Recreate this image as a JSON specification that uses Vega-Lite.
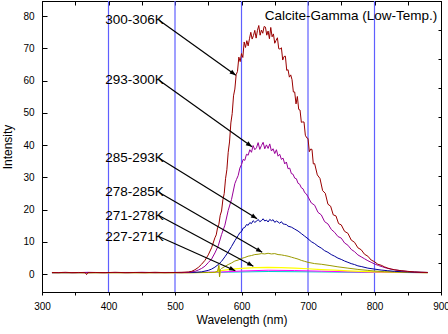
{
  "$schema": "https://vega.github.io/schema/vega-lite/v6.json",
  "width": 399,
  "height": 291,
  "autosize": {"type": "none"},
  "padding": {"left": 42, "top": 1, "right": 7, "bottom": 42},
  "background": "white",
  "config": {
    "view": {"stroke": "black", "strokeWidth": 1},
    "axis": {
      "labelFont": "Liberation Sans", "titleFont": "Liberation Sans",
      "labelFontSize": 10, "titleFontSize": 12, "titleFontWeight": "normal",
      "domainColor": "black", "tickColor": "black", "labelColor": "black", "titleColor": "black",
      "grid": false, "labelOverlap": false, "labelFlush": false
    }
  },
  "resolve": {"axis": {"x": "independent", "y": "independent"}},
  "datasets": {
    "red": [
      {"x":315,"v":0.55},{"x":325,"v":0.5},{"x":335,"v":0.6},{"x":345,"v":0.5},{"x":355,"v":0.55},{"x":365,"v":0.5},{"x":367,"v":-0.1},{"x":369,"v":0.5},{"x":380,"v":0.55},{"x":395,"v":0.5},{"x":410,"v":0.6},{"x":425,"v":0.5},{"x":440,"v":0.55},{"x":455,"v":0.5},{"x":470,"v":0.6},{"x":485,"v":0.5},{"x":500,"v":0.55},{"x":510,"v":0.6},
      {"x":520,"v":0.7},{"x":525,"v":0.9},{"x":530,"v":1.4},{"x":535,"v":2.1},{"x":540,"v":3.1},{"x":545,"v":4.3},{"x":550,"v":6.0},{"x":555,"v":8.2},
      {"x":560,"v":11.3},{"x":562,"v":12.2},{"x":564,"v":14.4},{"x":566,"v":15.5},{"x":568,"v":18.3},{"x":570,"v":19.6},{"x":572,"v":23.1},{"x":574,"v":25.0},{"x":576,"v":29.6},{"x":578,"v":32.4},{"x":580,"v":37.8},{"x":582,"v":41.0},{"x":584,"v":46.9},{"x":586,"v":49.8},{"x":588,"v":55.3},{"x":590,"v":57.4},{"x":592,"v":61.9},{"x":594,"v":62.9},
      {"x":596,"v":67.3},{"x":598,"v":65.9},{"x":600,"v":68.4},{"x":602,"v":67.2},{"x":604,"v":72.0},{"x":606,"v":70.3},{"x":608,"v":72.4},{"x":610,"v":70.8},{"x":612,"v":73.0},{"x":614,"v":75.0},{"x":616,"v":72.9},{"x":618,"v":74.0},{"x":620,"v":75.6},{"x":622,"v":73.2},{"x":624,"v":75.6},{"x":626,"v":77.1},{"x":628,"v":74.1},{"x":630,"v":75.7},{"x":632,"v":74.7},{"x":634,"v":76.8},{"x":636,"v":76.6},{"x":638,"v":74.1},{"x":640,"v":75.4},{"x":642,"v":73.0},{"x":644,"v":76.5},{"x":646,"v":73.6},{"x":648,"v":74.5},{"x":650,"v":71.6},{"x":652,"v":72.5},{"x":654,"v":73.3},{"x":656,"v":69.9},{"x":658,"v":69.8},{"x":660,"v":70.2},{"x":662,"v":66.4},{"x":664,"v":67.5},{"x":666,"v":67.6},{"x":668,"v":63.2},{"x":670,"v":63.4},{"x":672,"v":61.1},{"x":674,"v":61.8},{"x":676,"v":60.3},{"x":678,"v":56.5},{"x":680,"v":56.5},{"x":682,"v":52.8},{"x":684,"v":55.1},{"x":686,"v":51.1},{"x":688,"v":50.9},{"x":690,"v":47.1},{"x":692,"v":47.2},{"x":694,"v":47.2},{"x":696,"v":43.1},{"x":698,"v":42.3},{"x":700,"v":42.1},{"x":702,"v":38.0},{"x":704,"v":38.8},{"x":706,"v":38.7},{"x":708,"v":34.2},{"x":710,"v":34.3},
      {"x":714,"v":30.8},{"x":718,"v":29.7},{"x":722,"v":25.9},{"x":726,"v":25.1},{"x":730,"v":21.7},{"x":734,"v":21.1},{"x":738,"v":18.4},{"x":742,"v":18.1},{"x":746,"v":15.7},{"x":750,"v":15.3},{"x":755,"v":13.3},{"x":760,"v":12.7},{"x":765,"v":10.6},{"x":770,"v":9.9},{"x":775,"v":8.2},{"x":780,"v":7.6},{"x":785,"v":6.2},{"x":790,"v":5.6},{"x":795,"v":4.4},{"x":800,"v":3.9},{"x":805,"v":3.1},{"x":810,"v":2.8},{"x":815,"v":2.3},{"x":820,"v":1.9},{"x":825,"v":1.6},{"x":830,"v":1.4},{"x":840,"v":1.1},{"x":850,"v":0.9},{"x":860,"v":0.7},{"x":870,"v":0.6},{"x":880,"v":0.55}
    ],
    "pur": [
      {"x":315,"v":0.5},{"x":330,"v":0.55},{"x":350,"v":0.5},{"x":370,"v":0.6},{"x":390,"v":0.5},{"x":410,"v":0.55},{"x":430,"v":0.5},{"x":450,"v":0.6},{"x":470,"v":0.5},{"x":490,"v":0.55},{"x":510,"v":0.5},{"x":520,"v":0.6},{"x":530,"v":0.9},{"x":535,"v":1.3},{"x":540,"v":1.8},{"x":545,"v":2.5},{"x":550,"v":3.6},{"x":555,"v":4.7},{"x":560,"v":6.6},{"x":565,"v":8.8},{"x":570,"v":12.3},{"x":575,"v":15.2},{"x":580,"v":19.8},{"x":585,"v":23.2},
      {"x":590,"v":28.1},{"x":592.5,"v":29.4},{"x":595,"v":30.6},{"x":597.5,"v":32.9},{"x":600,"v":34.0},{"x":602.5,"v":35.6},{"x":605,"v":35.3},{"x":607.5,"v":37.2},{"x":610,"v":36.9},{"x":612.5,"v":38.6},{"x":615,"v":37.8},{"x":617.5,"v":39.9},{"x":620,"v":38.6},{"x":622.5,"v":39.2},{"x":625,"v":40.8},{"x":627.5,"v":38.7},{"x":630,"v":39.9},{"x":632.5,"v":40.9},{"x":635,"v":38.9},{"x":637.5,"v":40.1},{"x":640,"v":39.0},{"x":642.5,"v":40.4},{"x":645,"v":38.2},{"x":647.5,"v":38.9},{"x":650,"v":37.4},{"x":652.5,"v":38.6},{"x":655,"v":36.6},{"x":657.5,"v":37.2},{"x":660,"v":35.6},{"x":662.5,"v":36.0},{"x":665,"v":34.2},{"x":667.5,"v":34.8},{"x":670,"v":32.7},{"x":672.5,"v":32.9},{"x":675,"v":31.2},{"x":677.5,"v":31.0},{"x":680,"v":29.8},{"x":682.5,"v":29.6},{"x":685,"v":28.2},{"x":687.5,"v":27.9},{"x":690,"v":26.8},{"x":692.5,"v":26.5},{"x":695,"v":25.3},{"x":697.5,"v":24.9},{"x":700,"v":24.0},
      {"x":705,"v":22.1},{"x":710,"v":21.4},{"x":715,"v":19.2},{"x":720,"v":18.4},{"x":725,"v":16.3},{"x":730,"v":15.6},{"x":735,"v":13.9},{"x":740,"v":13.0},{"x":745,"v":11.7},{"x":750,"v":11.2},{"x":755,"v":9.7},{"x":760,"v":9.0},{"x":765,"v":7.7},{"x":770,"v":7.0},{"x":775,"v":6.0},{"x":780,"v":5.4},{"x":785,"v":4.8},{"x":790,"v":4.2},{"x":795,"v":3.7},{"x":800,"v":3.2},{"x":806,"v":2.7},{"x":812,"v":2.3},{"x":818,"v":1.9},{"x":825,"v":1.6},{"x":832,"v":1.3},{"x":840,"v":1.1},{"x":850,"v":0.85},{"x":860,"v":0.7},{"x":870,"v":0.6},{"x":880,"v":0.55}
    ],
    "blu": [
      {"x":315,"v":0.5},{"x":420,"v":0.55},{"x":520,"v":0.55},{"x":530,"v":0.6},{"x":540,"v":0.75},{"x":550,"v":1.2},{"x":555,"v":1.6},{"x":560,"v":2.2},{"x":565,"v":3.0},{"x":570,"v":4.0},{"x":575,"v":5.4},{"x":580,"v":6.9},{"x":585,"v":8.6},{"x":590,"v":10.4},{"x":595,"v":12.0},{"x":597.5,"v":12.9},{"x":600,"v":13.2},{"x":602.5,"v":14.3},{"x":605,"v":14.5},{"x":607.5,"v":15.4},{"x":610,"v":15.2},{"x":612.5,"v":16.0},{"x":615,"v":15.7},{"x":617.5,"v":16.6},{"x":620,"v":16.1},{"x":622.5,"v":16.4},{"x":625,"v":17.0},{"x":627.5,"v":16.3},{"x":630,"v":16.6},{"x":632.5,"v":17.2},{"x":635,"v":16.5},{"x":637.5,"v":16.8},{"x":640,"v":16.2},{"x":642.5,"v":17.0},{"x":645,"v":16.6},{"x":647.5,"v":16.9},{"x":650,"v":16.1},{"x":652.5,"v":16.5},{"x":655,"v":16.2},{"x":657.5,"v":15.8},{"x":660,"v":16.3},{"x":662.5,"v":15.6},{"x":665,"v":15.5},{"x":667.5,"v":15.4},{"x":670,"v":14.9},{"x":675,"v":14.6},{"x":680,"v":14.0},{"x":685,"v":13.4},{"x":690,"v":12.6},{"x":695,"v":11.8},{"x":700,"v":11.0},{"x":705,"v":10.1},{"x":710,"v":9.5},{"x":715,"v":8.7},{"x":720,"v":8.1},{"x":725,"v":7.3},{"x":730,"v":6.8},{"x":735,"v":6.1},{"x":740,"v":5.6},{"x":745,"v":5.0},{"x":750,"v":4.6},{"x":755,"v":4.1},{"x":760,"v":3.7},{"x":765,"v":3.3},{"x":770,"v":3.0},{"x":775,"v":2.6},{"x":780,"v":2.4},{"x":790,"v":1.9},{"x":800,"v":1.6},{"x":810,"v":1.3},{"x":820,"v":1.1},{"x":830,"v":0.9},{"x":840,"v":0.8},{"x":860,"v":0.65},{"x":880,"v":0.55}
    ],
    "oli": [
      {"x":315,"v":0.5},{"x":420,"v":0.5},{"x":520,"v":0.5},{"x":550,"v":0.55},{"x":560,"v":0.6},{"x":564,"v":0.9},{"x":566,"v":2.8},{"x":567,"v":-0.8},{"x":568,"v":1.4},{"x":570,"v":1.8},{"x":575,"v":2.4},{"x":580,"v":3.0},{"x":585,"v":3.5},{"x":590,"v":4.1},{"x":595,"v":4.4},{"x":600,"v":4.9},{"x":605,"v":5.2},{"x":610,"v":5.6},{"x":615,"v":5.8},{"x":620,"v":6.1},{"x":625,"v":6.2},{"x":630,"v":6.4},{"x":635,"v":6.3},{"x":640,"v":6.5},{"x":645,"v":6.3},{"x":650,"v":6.4},{"x":655,"v":6.1},{"x":660,"v":6.0},{"x":665,"v":5.8},{"x":670,"v":5.6},{"x":675,"v":5.3},{"x":680,"v":5.0},{"x":685,"v":4.7},{"x":690,"v":4.3},{"x":695,"v":4.0},{"x":700,"v":3.7},{"x":710,"v":3.3},{"x":720,"v":3.1},{"x":733,"v":2.7},{"x":745,"v":2.3},{"x":760,"v":1.9},{"x":775,"v":1.5},{"x":790,"v":1.2},{"x":800,"v":1.0},{"x":815,"v":0.8},{"x":830,"v":0.7},{"x":850,"v":0.6},{"x":880,"v":0.5}
    ],
    "yel": [
      {"x":315,"v":0.5},{"x":420,"v":0.5},{"x":520,"v":0.5},{"x":560,"v":0.6},{"x":565,"v":0.9},{"x":566,"v":2.5},{"x":567,"v":-0.5},{"x":568,"v":1.1},{"x":575,"v":1.3},{"x":585,"v":1.6},{"x":600,"v":1.85},{"x":620,"v":2.05},{"x":640,"v":2.15},{"x":660,"v":2.05},{"x":680,"v":1.9},{"x":700,"v":1.7},{"x":720,"v":1.45},{"x":740,"v":1.25},{"x":760,"v":1.05},{"x":780,"v":0.9},{"x":800,"v":0.75},{"x":830,"v":0.65},{"x":880,"v":0.5}
    ],
    "mag": [
      {"x":315,"v":0.5},{"x":420,"v":0.5},{"x":520,"v":0.5},{"x":570,"v":0.7},{"x":600,"v":1.0},{"x":640,"v":1.25},{"x":680,"v":1.15},{"x":720,"v":0.95},{"x":760,"v":0.75},{"x":800,"v":0.6},{"x":880,"v":0.5}
    ],
    "cya": [
      {"x":315,"v":0.5},{"x":420,"v":0.5},{"x":520,"v":0.5},{"x":580,"v":0.65},{"x":640,"v":0.85},{"x":700,"v":0.75},{"x":780,"v":0.6},{"x":880,"v":0.5}
    ],
    "ann": [
      {"t":"300-306K","x":475.6,"y":78.8,"x2":591.5,"y2":61.7},
      {"t":"293-300K","x":475.6,"y":60.2,"x2":615.8,"y2":39.5},
      {"t":"285-293K","x":475.6,"y":36.0,"x2":623.5,"y2":17.2},
      {"t":"278-285K","x":475.6,"y":25.4,"x2":631.1,"y2":6.8},
      {"t":"271-278K","x":475.6,"y":18.2,"x2":617.8,"y2":2.5},
      {"t":"227-271K","x":475.6,"y":11.7,"x2":590.7,"y2":1.1}
    ]
  },
  "layer": [
    {
      "data": {"values": [{"g":400},{"g":500},{"g":600},{"g":700},{"g":800}]},
      "mark": {"type": "rule", "color": "#5f5fff", "strokeWidth": 1.2},
      "encoding": {
        "x": {"field": "g", "type": "quantitative",
          "scale": {"domain": [300, 900], "nice": false, "zero": false},
          "axis": {"orient": "bottom", "values": [300,350,400,450,500,550,600,650,700,750,800,850,900],
            "labelExpr": "datum.value % 100 == 0 ? datum.label : ''",
            "tickSize": 3, "labelPadding": 6, "title": "Wavelength (nm)", "titlePadding": 3}}
      }
    },
    {
      "data": {"name": "cya"},
      "mark": {"type": "line", "color": "#00c8c8", "strokeWidth": 1},
      "encoding": {
        "x": {"field": "x", "type": "quantitative", "axis": null},
        "y": {"field": "v", "type": "quantitative", "axis": null}
      }
    },
    {
      "data": {"name": "mag"},
      "mark": {"type": "line", "color": "#ff00ff", "strokeWidth": 1},
      "encoding": {
        "x": {"field": "x", "type": "quantitative", "axis": null},
        "y": {"field": "v", "type": "quantitative", "axis": null}
      }
    },
    {
      "data": {"name": "yel"},
      "mark": {"type": "line", "color": "#ffff00", "strokeWidth": 1.2},
      "encoding": {
        "x": {"field": "x", "type": "quantitative", "axis": null},
        "y": {"field": "v", "type": "quantitative", "axis": null}
      }
    },
    {
      "data": {"name": "oli"},
      "mark": {"type": "line", "color": "#9a9a00", "strokeWidth": 1},
      "encoding": {
        "x": {"field": "x", "type": "quantitative", "axis": null},
        "y": {"field": "v", "type": "quantitative", "axis": null}
      }
    },
    {
      "data": {"name": "blu"},
      "mark": {"type": "line", "color": "#00009a", "strokeWidth": 1},
      "encoding": {
        "x": {"field": "x", "type": "quantitative", "axis": null},
        "y": {"field": "v", "type": "quantitative", "axis": null}
      }
    },
    {
      "data": {"name": "pur"},
      "mark": {"type": "line", "color": "#990099", "strokeWidth": 1},
      "encoding": {
        "x": {"field": "x", "type": "quantitative", "axis": null},
        "y": {"field": "v", "type": "quantitative",
          "axis": {"orient": "right", "values": [-5.5,3.525,12.55,21.575,30.6,39.625,48.65,57.675,66.7,75.725,84.7],
            "labels": false, "tickSize": -3, "title": null}}
      }
    },
    {
      "data": {"name": "red"},
      "mark": {"type": "line", "color": "#990000", "strokeWidth": 1},
      "encoding": {
        "x": {"field": "x", "type": "quantitative",
          "axis": {"orient": "top", "values": [300,350,400,450,500,550,600,650,700,750,800,850,900],
            "labels": false, "tickSize": -4, "title": null}},
        "y": {"field": "v", "type": "quantitative",
          "scale": {"domain": [-5.5, 84.7], "nice": false, "zero": false},
          "axis": {"orient": "left", "values": [0,10,20,30,40,50,60,70,80],
            "tickSize": -5, "labelPadding": 13, "title": "Intensity", "titlePadding": 8}}
      }
    },
    {
      "data": {"name": "ann"},
      "mark": {"type": "rule", "color": "black", "strokeWidth": 1.2},
      "encoding": {
        "x": {"field": "x", "type": "quantitative", "axis": null},
        "y": {"field": "y", "type": "quantitative", "axis": null},
        "x2": {"field": "x2"},
        "y2": {"field": "y2"}
      }
    },
    {
      "data": {"name": "ann"},
      "transform": [
        {"calculate": "atan2((datum.y - datum.y2) * 3.2227, (datum.x2 - datum.x) * 0.6645) * 180 / PI", "as": "ang"}
      ],
      "mark": {"type": "point", "shape": "M0,0L-1,-0.38L-1,0.38Z", "filled": true, "color": "black", "opacity": 1, "size": 150},
      "encoding": {
        "x": {"field": "x2", "type": "quantitative", "axis": null},
        "y": {"field": "y2", "type": "quantitative", "axis": null},
        "angle": {"field": "ang", "type": "quantitative", "scale": null}
      }
    },
    {
      "data": {"name": "ann"},
      "mark": {"type": "text", "align": "right", "baseline": "middle", "dx": 5, "font": "Liberation Sans", "fontSize": 13.5, "color": "black"},
      "encoding": {
        "x": {"field": "x", "type": "quantitative", "axis": null},
        "y": {"field": "y", "type": "quantitative", "axis": null},
        "text": {"field": "t"}
      }
    },
    {
      "data": {"values": [{"t": "Calcite-Gamma (Low-Temp.)", "x": 894.5, "y": 80}]},
      "mark": {"type": "text", "align": "right", "baseline": "middle", "font": "Liberation Sans", "fontSize": 13.5, "color": "black"},
      "encoding": {
        "x": {"field": "x", "type": "quantitative", "axis": null},
        "y": {"field": "y", "type": "quantitative", "axis": null},
        "text": {"field": "t"}
      }
    }
  ]
}
